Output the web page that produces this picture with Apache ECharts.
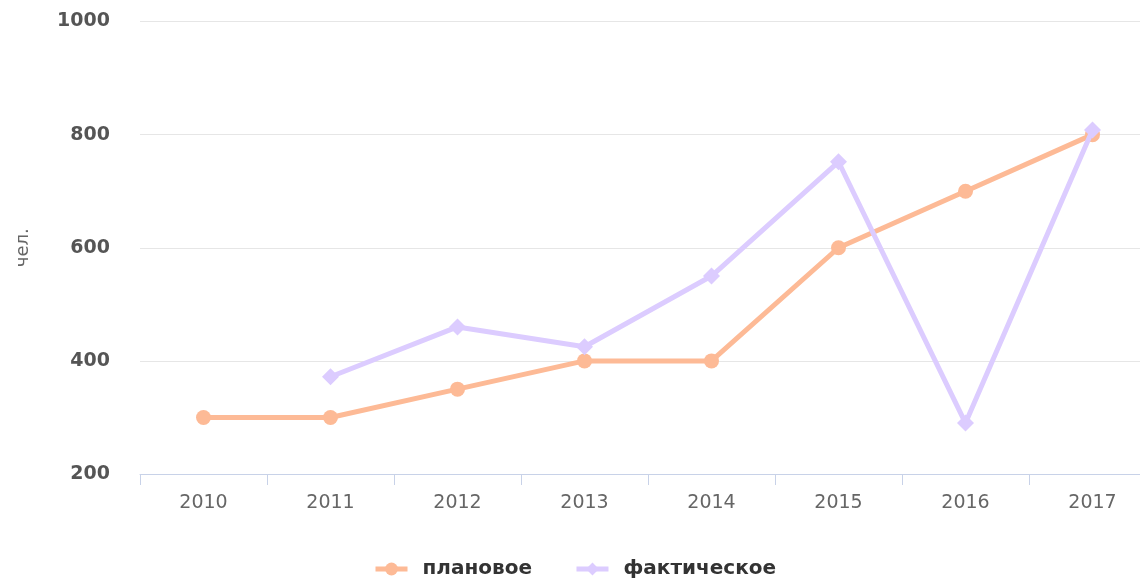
<!DOCTYPE html>
<html>
<head>
<meta charset="utf-8">
<script src="https://cdn.jsdelivr.net/npm/echarts@6/dist/echarts.min.js"></script>
<style>
  html, body { margin: 0; padding: 0; background: #fff; overflow: hidden; }
  #chart { width: 1156px; height: 581px; }
</style>
</head>
<body>
<div id="chart"></div>
<script>
const years = ['2010', '2011', '2012', '2013', '2014', '2015', '2016', '2017']
const planned = [300, 300, 350, 400, 400, 600, 700, 800]
const actual = [null, 372, 460, 425, 550, 752, 290, 808]
const yTicks = { min: 200, max: 1000, interval: 200 }

const chart = echarts.init(document.getElementById('chart'))
chart.setOption({
  backgroundColor: '#ffffff',
  animation: false,
  textStyle: { fontFamily: 'DejaVu Sans' },
  grid: { left: 140, right: 0, top: 21.5, bottom: 107 },
  legend: {
    bottom: -3,
    left: 368,
    itemWidth: 32,
    itemHeight: 16,
    itemGap: 42,
    lineStyle: { width: 5 },
    textStyle: { fontSize: 20, fontWeight: 'bold', color: '#333', padding: [0, 0, 0, 10] },
    data: ['плановое', 'фактическое']
  },
  xAxis: {
    type: 'category',
    data: years,
    boundaryGap: true,
    axisLine: { lineStyle: { color: '#c8d2e8', width: 1 } },
    axisTick: { show: true, length: 11, lineStyle: { color: '#c8d2e8' } },
    axisLabel: { color: '#666', fontSize: 19, margin: 20 }
  },
  yAxis: {
    type: 'value',
    min: yTicks.min,
    max: yTicks.max,
    interval: yTicks.interval,
    name: 'чел.',
    nameLocation: 'middle',
    nameGap: 108,
    nameTextStyle: { color: '#666', fontSize: 18 },
    axisLine: { show: false },
    axisTick: { show: false },
    axisLabel: { color: '#555', fontSize: 19, fontWeight: 'bold', margin: 30, formatter: v => String(v) },
    splitLine: { lineStyle: { color: '#e6e6e6', width: 1 } }
  },
  series: [
    {
      name: 'плановое',
      type: 'line',
      data: planned,
      symbol: 'circle',
      symbolSize: 15,
      itemStyle: { color: '#fdba96' },
      lineStyle: { color: '#fdba96', width: 5, join: 'round' },
      z: 2
    },
    {
      name: 'фактическое',
      type: 'line',
      data: actual,
      symbol: 'diamond',
      symbolSize: 17,
      itemStyle: { color: '#dcccff' },
      lineStyle: { color: '#dcccff', width: 5, join: 'round' },
      z: 3
    }
  ]
})
</script>
</body>
</html>
